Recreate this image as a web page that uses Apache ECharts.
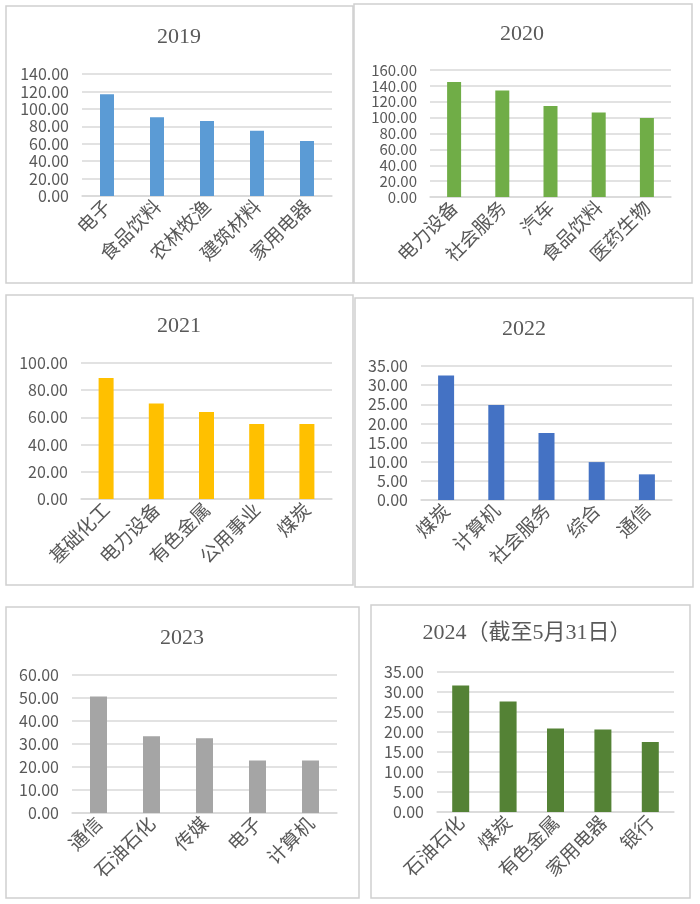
<!DOCTYPE html>
<html>
<head>
<meta charset="utf-8">
<script src="https://cdn.jsdelivr.net/npm/echarts@6/dist/echarts.min.js"></script>
<style>
  html, body { margin: 0; padding: 0; background: #fff; }
  #chart { width: 700px; height: 904px; }
</style>
</head>
<body>
<div id="chart"></div>
<script>
// data
const cats2019 = ["电子", "食品饮料", "农林牧渔", "建筑材料", "家用电器"];
const vals2019 = [116.7, 90.3, 86.0, 74.9, 63.1];
const cats2020 = ["电力设备", "社会服务", "汽车", "食品饮料", "医药生物"];
const vals2020 = [144.8, 134.2, 114.7, 106.3, 99.4];
const cats2021 = ["基础化工", "电力设备", "有色金属", "公用事业", "煤炭"];
const vals2021 = [89.0, 70.3, 63.9, 55.1, 55.1];
const cats2022 = ["煤炭", "计算机", "社会服务", "综合", "通信"];
const vals2022 = [32.5, 24.8, 17.5, 9.9, 6.7];
const cats2023 = ["通信", "石油石化", "传媒", "电子", "计算机"];
const vals2023 = [50.7, 33.4, 32.5, 22.8, 22.8];
const cats2024 = ["石油石化", "煤炭", "有色金属", "家用电器", "银行"];
const vals2024 = [31.6, 27.6, 20.9, 20.6, 17.5];

const titles = ["2019", "2020", "2021", "2022", "2023", "2024（截至5月31日）"];
const yMax = [140, 160, 100, 35, 60, 35];
const yStep = [20, 20, 20, 5, 10, 5];

// layout of each panel: box, title centre, plot area
const panels = [
  { cats: cats2019, vals: vals2019, color: "#5B9BD5", box: [6, 6, 347, 277], tc: [179, 37], grid: [82, 74, 250, 122], bw: 14, yFont: 16 },
  { cats: cats2020, vals: vals2020, color: "#70AD47", box: [354, 4, 338, 279], tc: [522, 34], grid: [430, 70, 241, 127], bw: 14, yFont: 15 },
  { cats: cats2021, vals: vals2021, color: "#FFC000", box: [6, 295, 347, 290], tc: [179, 326], grid: [81, 363, 251, 136], bw: 15, yFont: 16 },
  { cats: cats2022, vals: vals2022, color: "#4472C4", box: [355, 298, 338, 289], tc: [524, 329], grid: [421, 366, 251, 134], bw: 16, yFont: 16 },
  { cats: cats2023, vals: vals2023, color: "#A5A5A5", box: [6, 607, 353, 291], tc: [182, 638], grid: [72, 675, 265, 138], bw: 17, yFont: 16 },
  { cats: cats2024, vals: vals2024, color: "#548235", box: [371, 605, 319, 293], tc: [527, 633], grid: [437, 672, 237, 140], bw: 17, yFont: 16 }
];

const textColor = "#595959";
const lineColor = "#D9D9D9";
const sansFont = "'Noto Sans CJK SC', 'Noto Sans', sans-serif";

let option = {
  backgroundColor: "#fff",
  animation: false,
  title: [],
  grid: [],
  xAxis: [],
  yAxis: [],
  series: [],
  graphic: []
};

panels.forEach((p, i) => {
  option.graphic.push({
    type: "rect",
    shape: { x: p.box[0], y: p.box[1], width: p.box[2], height: p.box[3] },
    style: { fill: "none", stroke: "#D0D0D0", lineWidth: 1.5 },
    silent: true
  });
  option.title.push({
    text: titles[i],
    left: p.tc[0],
    top: p.tc[1],
    padding: 0,
    textAlign: "center",
    textVerticalAlign: "middle",
    textStyle: {
      fontFamily: "'Liberation Serif', 'Noto Sans CJK SC', serif",
      fontWeight: "normal",
      fontSize: 22,
      color: textColor
    }
  });
  option.grid.push({ left: p.grid[0], top: p.grid[1], width: p.grid[2], height: p.grid[3], containLabel: false });
  option.xAxis.push({
    type: "category",
    gridIndex: i,
    data: p.cats,
    axisLine: { lineStyle: { color: lineColor, width: 1.5 } },
    axisTick: { show: false },
    axisLabel: {
      rotate: 45,
      interval: 0,
      margin: 7,
      hideOverlap: false,
      color: textColor,
      fontSize: 19,
      fontFamily: sansFont
    }
  });
  option.yAxis.push({
    type: "value",
    gridIndex: i,
    min: 0,
    max: yMax[i],
    interval: yStep[i],
    axisLine: { show: false },
    axisTick: { show: false },
    splitLine: { lineStyle: { color: lineColor, width: 1.5 } },
    axisLabel: {
      margin: 13,
      hideOverlap: false,
      showMinLabel: true,
      showMaxLabel: true,
      color: textColor,
      fontSize: p.yFont,
      fontFamily: sansFont,
      formatter: v => v.toFixed(2)
    }
  });
  option.series.push({
    type: "bar",
    xAxisIndex: i,
    yAxisIndex: i,
    data: p.vals,
    barWidth: p.bw,
    itemStyle: { color: p.color }
  });
});

let chart = echarts.init(document.getElementById("chart"), null, { renderer: "canvas" });
chart.setOption(option);
</script>
</body>
</html>
